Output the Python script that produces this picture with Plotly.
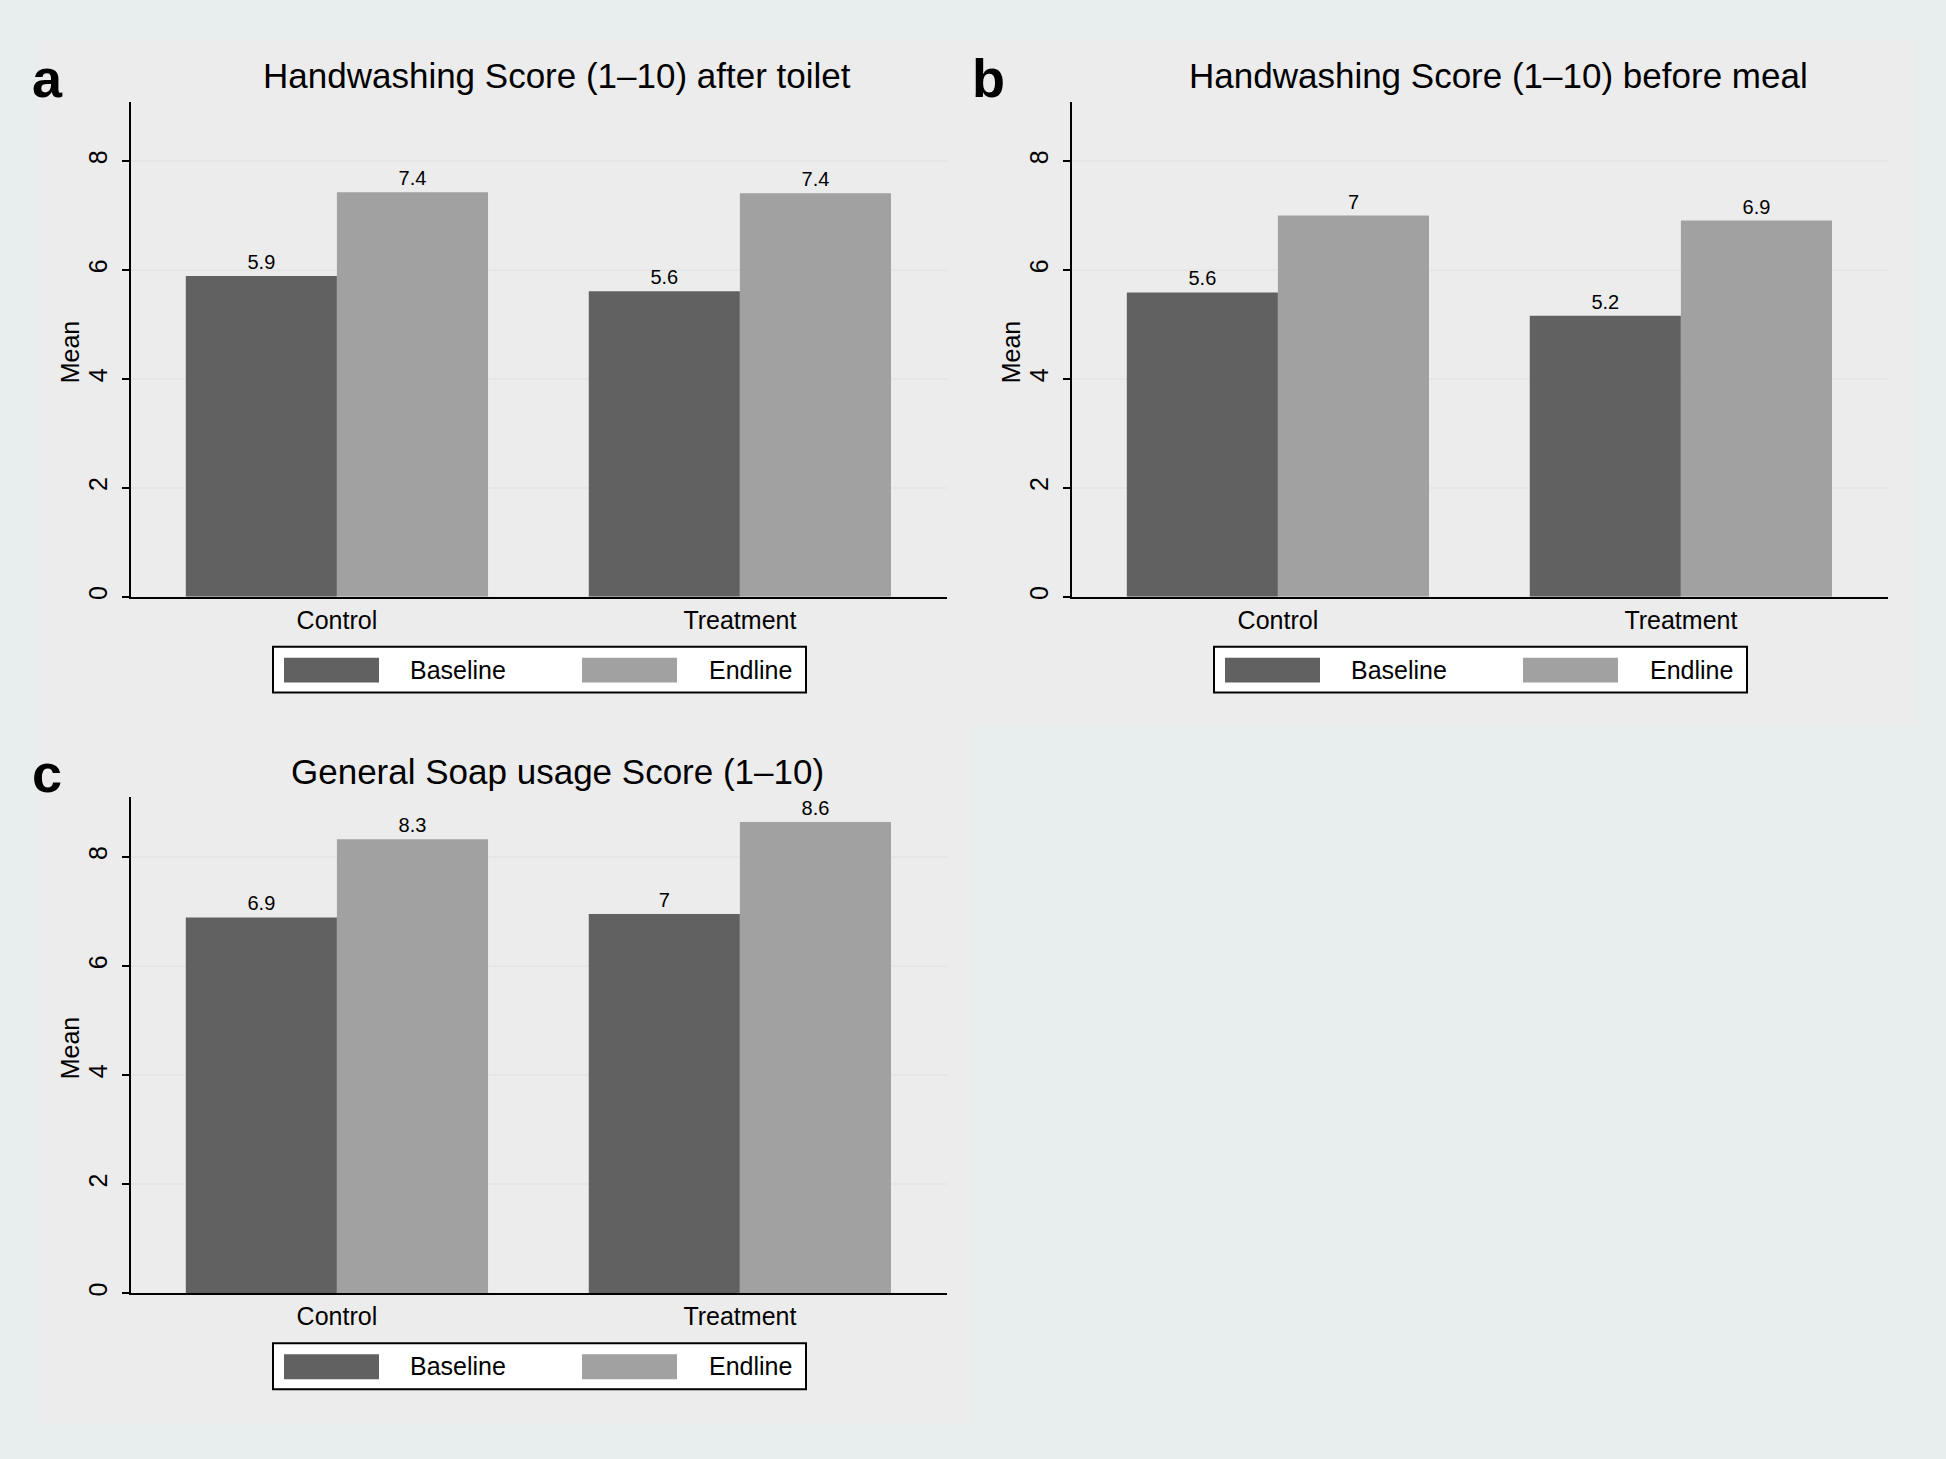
import plotly.graph_objects as go

W, H = 1946, 1459

categories = ["Control", "Treatment"]
series_names = ["Baseline", "Endline"]

# Panel a: Handwashing after toilet
a_baseline = [5.89, 5.61]
a_endline = [7.43, 7.41]
a_base_labels = ["5.9", "5.6"]
a_end_labels = ["7.4", "7.4"]

# Panel b: Handwashing before meal
b_baseline = [5.59, 5.16]
b_endline = [7.00, 6.91]
b_base_labels = ["5.6", "5.2"]
b_end_labels = ["7", "6.9"]

# Panel c: General soap usage
c_baseline = [6.89, 6.95]
c_endline = [8.32, 8.64]
c_base_labels = ["6.9", "7"]
c_end_labels = ["8.3", "8.6"]

titles = ["Handwashing Score (1\u201310) after toilet",
          "Handwashing Score (1\u201310) before meal",
          "General Soap usage Score (1\u201310)"]
panel_letters = ["a", "b", "c"]
y_ticks = [0, 2, 4, 6, 8]

BASE_COLOR = "#616161"
END_COLOR = "#a1a1a1"
OUTER_BG = "#e8eeee"
FONT = "Liberation Sans, Arial, Helvetica, sans-serif"


def px_x(x):
    return x / W


def px_y(y):
    return 1 - y / H


# plot area pixel boxes (left, right, top, bottom)
boxes = [(131, 947, 102, 598), (1072, 1888, 102, 598), (131, 947, 799, 1296)]

fig = go.Figure()

data = [
    (a_baseline, a_endline, a_base_labels, a_end_labels),
    (b_baseline, b_endline, b_base_labels, b_end_labels),
    (c_baseline, c_endline, c_base_labels, c_end_labels),
]

for i, (bv, ev, bl, el) in enumerate(data):
    sfx = "" if i == 0 else str(i + 1)
    for vals, labels, name, color in [(bv, bl, series_names[0], BASE_COLOR),
                                      (ev, el, series_names[1], END_COLOR)]:
        fig.add_trace(go.Bar(
            x=categories, y=vals, name=name, text=labels,
            textposition="outside", cliponaxis=False,
            textfont=dict(size=20, color="black", family=FONT),
            marker=dict(color=color, line=dict(width=0)),
            xaxis="x" + sfx, yaxis="y" + sfx, showlegend=False,
            offsetgroup=name,
        ))

layout = dict(
    width=W, height=H,
    paper_bgcolor=OUTER_BG, plot_bgcolor="white",
    margin=dict(l=0, r=0, t=0, b=0),
    barmode="group", bargap=0.25, bargroupgap=0,
    font=dict(family=FONT, color="black"),
    showlegend=False,
)

shapes = []
annotations = []

# panel backgrounds
shapes.append(dict(type="rect", xref="paper", yref="paper", layer="below",
                   x0=px_x(38), x1=px_x(1918), y0=px_y(728), y1=px_y(40),
                   fillcolor="#ececec", line=dict(width=0)))
shapes.append(dict(type="rect", xref="paper", yref="paper", layer="below",
                   x0=px_x(38), x1=px_x(973), y0=px_y(1426), y1=px_y(728),
                   fillcolor="#ececec", line=dict(width=0)))

for i, (l, r, t, b) in enumerate(boxes):
    sfx = "" if i == 0 else str(i + 1)
    layout["xaxis" + sfx] = dict(
        domain=[px_x(l), px_x(r)], anchor="y" + sfx, type="category",
        range=[-0.511, 1.514], showline=True, linecolor="black", linewidth=2,
        ticks="", showgrid=False, tickfont=dict(size=25, color="black"),
        fixedrange=True,
    )
    layout["yaxis" + sfx] = dict(
        domain=[px_y(b), px_y(t)], anchor="x" + sfx,
        range=[0, 9.09], tickvals=y_ticks, ticktext=[str(v) for v in y_ticks],
        tickangle=-90, ticks="outside", ticklen=7, tickwidth=2, tickcolor="black",
        ticklabelstandoff=5,
        showline=True, linecolor="black", linewidth=2,
        showgrid=True, gridcolor="#e6e6e6", gridwidth=2, zeroline=False,
        tickfont=dict(size=25, color="black"),
    )
    # Y title
    annotations.append(dict(text="Mean", xref="paper", yref="paper",
                            x=px_x(l - 61), y=px_y((t + b) / 2 + 3), textangle=-90,
                            showarrow=False, font=dict(size=25, color="black"),
                            xanchor="center", yanchor="middle"))
    # chart title
    annotations.append(dict(text=titles[i], xref="paper", yref="paper",
                            x=px_x((l + r) / 2 + 18), y=px_y(t - 26),
                            showarrow=False, font=dict(size=35, color="black"),
                            xanchor="center", yanchor="middle"))
    # panel letter
    annotations.append(dict(text="<b>%s</b>" % panel_letters[i], xref="paper", yref="paper",
                            x=px_x(l - 84), y=px_y(t - 24),
                            showarrow=False, font=dict(size=54, color="black"),
                            xanchor="center", yanchor="middle"))
    # legend box
    lx0 = (l + r) / 2 - 266
    lx1 = (l + r) / 2 + 267
    ly0 = b + 50
    ly1 = b + 96
    shapes.append(dict(type="rect", xref="paper", yref="paper",
                       x0=px_x(lx0), x1=px_x(lx1), y0=px_y(ly1), y1=px_y(ly0),
                       fillcolor="white", line=dict(color="black", width=2)))
    for off0, off1, toff, name, color in [(11, 106, 185, series_names[0], BASE_COLOR),
                                          (309, 404, 477, series_names[1], END_COLOR)]:
        shapes.append(dict(type="rect", xref="paper", yref="paper",
                           x0=px_x(lx0 + off0), x1=px_x(lx0 + off1),
                           y0=px_y(ly0 + 36), y1=px_y(ly0 + 11),
                           fillcolor=color, line=dict(width=0)))
        annotations.append(dict(text=name, xref="paper", yref="paper",
                                x=px_x(lx0 + toff), y=px_y(ly0 + 23),
                                showarrow=False, font=dict(size=25, color="black"),
                                xanchor="center", yanchor="middle"))

layout["shapes"] = shapes
layout["annotations"] = annotations
fig.update_layout(**layout)

post = ("document.body.style.margin='0';"
        "document.body.style.padding='0';"
        "document.body.style.background='%s';" % OUTER_BG)
fig.write_html("out.html", post_script=post,
               config={"displayModeBar": False, "staticPlot": True})
